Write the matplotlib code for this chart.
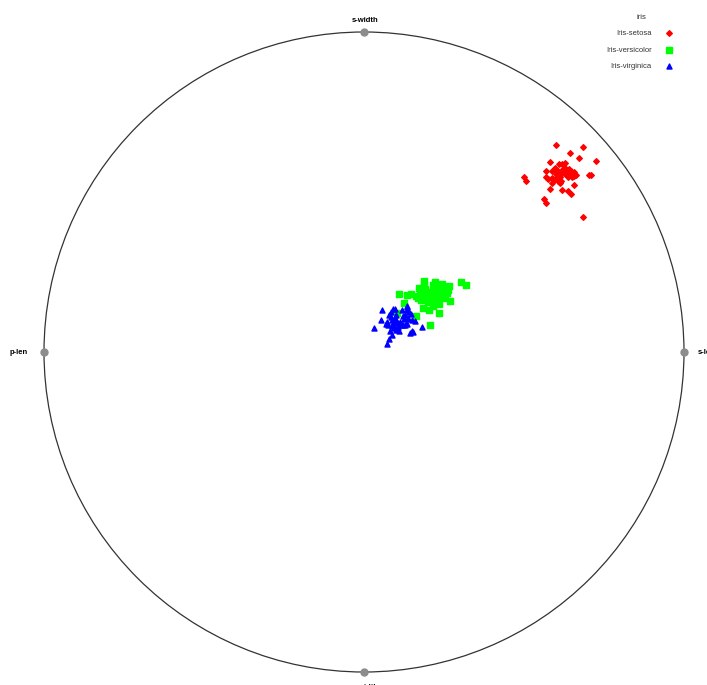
import numpy as np
import matplotlib.pyplot as plt
from matplotlib.patches import Circle

plt.rcParams["font.family"] = ["Liberation Sans Narrow", "Liberation Sans", "DejaVu Sans"]

# RadViz projection of the iris data (x, y in unit-circle coordinates)
anchor_labels = ["s-len", "s-width", "p-len", "p-width"]
anchor_angles = [0, 90, 180, 270]

setosa_x = [0.601, 0.683, 0.643, 0.673, 0.726, 0.580, 0.608, 0.618, 0.627, 0.597,
            0.629, 0.642, 0.569, 0.588, 0.607, 0.618, 0.628, 0.646, 0.656, 0.650,
            0.662, 0.638, 0.703, 0.710, 0.500, 0.569, 0.588, 0.637, 0.649, 0.574,
            0.598, 0.506, 0.616, 0.605, 0.588, 0.612, 0.656, 0.580, 0.618, 0.637,
            0.647, 0.563, 0.569, 0.683, 0.622, 0.633, 0.613, 0.641, 0.600, 0.655]
setosa_y = [0.647, 0.641, 0.622, 0.606, 0.597, 0.594, 0.587, 0.588, 0.590, 0.576,
            0.575, 0.571, 0.565, 0.566, 0.565, 0.559, 0.557, 0.565, 0.563, 0.555,
            0.554, 0.552, 0.553, 0.553, 0.548, 0.547, 0.545, 0.547, 0.547, 0.540,
            0.540, 0.533, 0.535, 0.534, 0.529, 0.527, 0.521, 0.509, 0.505, 0.503,
            0.494, 0.477, 0.466, 0.423, 0.572, 0.562, 0.548, 0.559, 0.557, 0.551]

versicolor_x = [0.188, 0.221, 0.243, 0.303, 0.319, 0.188, 0.265, 0.172, 0.190, 0.217,
                0.205, 0.245, 0.255, 0.262, 0.110, 0.135, 0.148, 0.163, 0.175, 0.206,
                0.220, 0.233, 0.250, 0.259, 0.170, 0.218, 0.232, 0.249, 0.178, 0.201,
                0.268, 0.220, 0.233, 0.124, 0.217, 0.183, 0.202, 0.235, 0.104, 0.162,
                0.207, 0.228, 0.212, 0.240, 0.196, 0.226, 0.252, 0.185, 0.238, 0.215]
versicolor_y = [0.222, 0.218, 0.213, 0.218, 0.209, 0.213, 0.206, 0.200, 0.197, 0.195,
                0.188, 0.192, 0.192, 0.195, 0.181, 0.177, 0.181, 0.176, 0.178, 0.179,
                0.178, 0.179, 0.181, 0.184, 0.170, 0.169, 0.171, 0.176, 0.162, 0.156,
                0.158, 0.156, 0.151, 0.153, 0.143, 0.137, 0.132, 0.121, 0.122, 0.113,
                0.084, 0.200, 0.183, 0.186, 0.172, 0.164, 0.170, 0.183, 0.206, 0.208]

virginica_x = [0.057, 0.090, 0.097, 0.118, 0.135, 0.134, 0.141, 0.079, 0.085, 0.100,
               0.121, 0.053, 0.071, 0.088, 0.099, 0.138, 0.151, 0.159, 0.116, 0.121,
               0.127, 0.133, 0.076, 0.087, 0.095, 0.031, 0.101, 0.082, 0.110, 0.151,
               0.145, 0.181, 0.087, 0.078, 0.073, 0.093, 0.133, 0.129, 0.137, 0.115,
               0.154, 0.104, 0.112, 0.090, 0.124, 0.096, 0.107, 0.083, 0.146, 0.068]
virginica_y = [0.131, 0.133, 0.133, 0.131, 0.141, 0.132, 0.125, 0.115, 0.109, 0.117,
               0.112, 0.100, 0.094, 0.099, 0.100, 0.103, 0.099, 0.098, 0.088, 0.083,
               0.085, 0.088, 0.083, 0.080, 0.074, 0.074, 0.070, 0.065, 0.066, 0.067,
               0.060, 0.077, 0.052, 0.042, 0.024, 0.081, 0.145, 0.117, 0.105, 0.085,
               0.062, 0.092, 0.095, 0.090, 0.102, 0.107, 0.079, 0.125, 0.118, 0.088]

classes = ["Iris-setosa", "Iris-versicolor", "Iris-virginica"]

fig = plt.figure(figsize=(7.07, 6.85), dpi=100)
ax = fig.add_axes([0, 0, 1, 1])
ax.set_xlim(-1.1375, 1.0719)
ax.set_ylim(-1.0406, 1.1)
ax.axis("off")

# unit circle and dimension anchors
ax.add_patch(Circle((0, 0), 1.0, fill=False, edgecolor="#333333", lw=0.9, zorder=1))
theta = np.deg2rad(anchor_angles)
ax.plot(np.cos(theta), np.sin(theta), "o", color="#8c8c8c", ms=5, zorder=2)

lbl = dict(fontsize=5.5, fontweight="bold", va="center")
ax.text(0.003, 1.037, anchor_labels[1], ha="center", **lbl)
ax.text(-1.078, 0, anchor_labels[2], ha="center", **lbl)
ax.text(1.042, 0, anchor_labels[0], ha="left", **lbl)
ax.text(0.003, -1.047, anchor_labels[3], ha="center", **lbl)

ax.scatter(setosa_x, setosa_y, marker="D", s=8, color="#ff0000", label=classes[0], zorder=3)
ax.scatter(versicolor_x, versicolor_y, marker="s", s=14, color="#00ff00", label=classes[1], zorder=3)
ax.scatter(virginica_x, virginica_y, marker="^", s=13, color="#0000ff", label=classes[2], zorder=4)

leg = ax.legend(title="iris", loc="upper right", bbox_to_anchor=(0.957, 0.980),
                markerfirst=False, frameon=False, fontsize=5.5, title_fontsize=5.5,
                labelspacing=1.2, handletextpad=1.3, borderpad=0, borderaxespad=0,
                labelcolor="#333333")
leg.get_title().set_color("#333333")

plt.savefig("out.png", dpi=100)
